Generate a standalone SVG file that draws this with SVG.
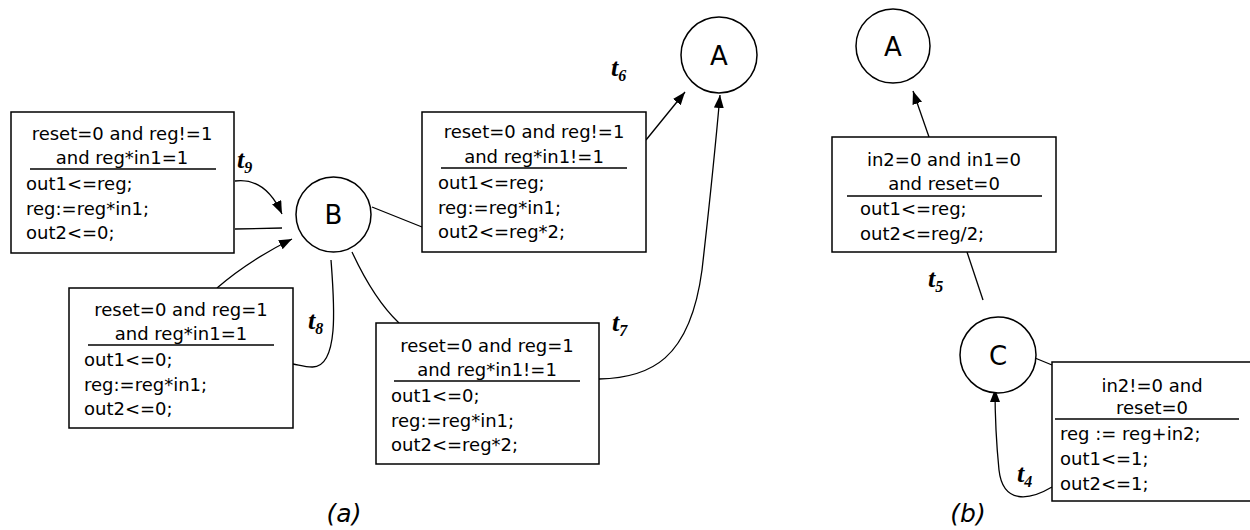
<svg xmlns="http://www.w3.org/2000/svg" width="1250" height="530" viewBox="0 0 1250 530">
<style>
.box{fill:#fff;stroke:#000;stroke-width:1.5}
.node{fill:#fff;stroke:#000;stroke-width:1.5}
.sep{stroke:#000;stroke-width:1.5}
.edge{fill:none;stroke:#000;stroke-width:1.3}
.tx{font-family:"DejaVu Sans",Verdana,sans-serif;font-size:18px;fill:#000}
.c{text-anchor:middle}
.nl{font-family:"DejaVu Sans",Verdana,sans-serif;font-size:26px;text-anchor:middle;fill:#000}
.tl{font-family:"Liberation Serif","Times New Roman",serif;font-size:26px;font-weight:bold;font-style:italic;fill:#000}
.sub{font-size:16px}
.cap{font-family:"DejaVu Sans",Verdana,sans-serif;font-size:25px;font-style:italic;text-anchor:middle;fill:#000}
</style>
<defs>
<marker id="ah" markerUnits="userSpaceOnUse" markerWidth="14" markerHeight="12" refX="13" refY="5" orient="auto">
<path d="M0,0 L13,5 L0,10 Z" fill="#000"/>
</marker>
</defs>
<rect width="1250" height="530" fill="#fff"/>
<g id="connectors">
<path class="edge" d="M235,181 C258,178 272,192 282,214" marker-end="url(#ah)"/>
<path class="edge" d="M235,229 L282,228"/>
<path class="edge" d="M217,288 C240,268 262,254 292,239" marker-end="url(#ah)"/>
<path class="edge" d="M331,260 C334,300 340,368 312,367 C305,367 299,365 293,364"/>
<path class="edge" d="M352,252 C365,280 380,305 399,323"/>
<path class="edge" d="M372,207 L422,227"/>
<path class="edge" d="M646,140 L685,92" marker-end="url(#ah)"/>
<path class="edge" d="M599,379 C650,378 690,360 702,270 C710,200 716,140 720,95" marker-end="url(#ah)"/>
<path class="edge" d="M929,137 L913,91" marker-end="url(#ah)"/>
<path class="edge" d="M967,252 L983,300"/>
<path class="edge" d="M1035,358 L1052,365"/>
<path class="edge" d="M1052,487 C1030,500 1003,505 999,470 C996,440 995,415 995,389" marker-end="url(#ah)"/>
</g>
<g id="node-B"><circle class="node" cx="333.5" cy="214.5" r="37.5"/><text class="nl" x="333.5" y="224">B</text></g>
<g id="node-A1"><circle class="node" cx="719" cy="55" r="38"/><text class="nl" x="719" y="65">A</text></g>
<g id="node-A2"><circle class="node" cx="893" cy="46" r="37"/><text class="nl" x="893" y="56">A</text></g>
<g id="node-C"><circle class="node" cx="998" cy="355" r="38"/><text class="nl" x="998" y="365">C</text></g>
<g id="box-t9">
<rect class="box" x="11" y="112" width="223" height="141"/>
<text class="tx c" x="122" y="140">reset=0 and reg!=1</text>
<text class="tx c" x="122" y="164">and reg*in1=1</text>
<line class="sep" x1="30" y1="169" x2="216" y2="169"/>
<text class="tx" x="26" y="190">out1&lt;=reg;</text>
<text class="tx" x="26" y="215">reg:=reg*in1;</text>
<text class="tx" x="26" y="239">out2&lt;=0;</text>
</g>
<g id="box-t8">
<rect class="box" x="69" y="288" width="224" height="140"/>
<text class="tx c" x="181" y="316">reset=0 and reg=1</text>
<text class="tx c" x="181" y="340">and reg*in1=1</text>
<line class="sep" x1="88" y1="345" x2="274" y2="345"/>
<text class="tx" x="84" y="366">out1&lt;=0;</text>
<text class="tx" x="84" y="391">reg:=reg*in1;</text>
<text class="tx" x="84" y="415">out2&lt;=0;</text>
</g>
<g id="box-t7">
<rect class="box" x="376" y="323" width="223" height="141"/>
<text class="tx c" x="487" y="352">reset=0 and reg=1</text>
<text class="tx c" x="487" y="376">and reg*in1!=1</text>
<line class="sep" x1="394" y1="381" x2="580" y2="381"/>
<text class="tx" x="391" y="402">out1&lt;=0;</text>
<text class="tx" x="391" y="427">reg:=reg*in1;</text>
<text class="tx" x="391" y="451">out2&lt;=reg*2;</text>
</g>
<g id="box-t6">
<rect class="box" x="422" y="112" width="224" height="140"/>
<text class="tx c" x="534" y="138">reset=0 and reg!=1</text>
<text class="tx c" x="534" y="163">and reg*in1!=1</text>
<line class="sep" x1="441" y1="168" x2="627" y2="168"/>
<text class="tx" x="438" y="189">out1&lt;=reg;</text>
<text class="tx" x="438" y="214">reg:=reg*in1;</text>
<text class="tx" x="438" y="238">out2&lt;=reg*2;</text>
</g>
<g id="box-t5">
<rect class="box" x="832" y="137" width="224" height="115"/>
<text class="tx c" x="944" y="166">in2=0 and in1=0</text>
<text class="tx c" x="944" y="190">and reset=0</text>
<line class="sep" x1="847" y1="196" x2="1042" y2="196"/>
<text class="tx" x="860" y="215">out1&lt;=reg;</text>
<text class="tx" x="860" y="240">out2&lt;=reg/2;</text>
</g>
<g id="box-t4">
<rect class="box" x="1052" y="362" width="200" height="139"/>
<text class="tx c" x="1152" y="392">in2!=0 and</text>
<text class="tx c" x="1152" y="414">reset=0</text>
<line class="sep" x1="1055" y1="419" x2="1239" y2="419"/>
<text class="tx" x="1060" y="440">reg := reg+in2;</text>
<text class="tx" x="1060" y="465">out1&lt;=1;</text>
<text class="tx" x="1060" y="490">out2&lt;=1;</text>
</g>
<g id="labels">
<text class="tl" x="237" y="168">t<tspan class="sub" dy="5">9</tspan></text>
<text class="tl" x="308" y="329">t<tspan class="sub" dy="5">8</tspan></text>
<text class="tl" x="612" y="331">t<tspan class="sub" dy="5">7</tspan></text>
<text class="tl" x="611" y="76">t<tspan class="sub" dy="5">6</tspan></text>
<text class="tl" x="928" y="287">t<tspan class="sub" dy="5">5</tspan></text>
<text class="tl" x="1017" y="482">t<tspan class="sub" dy="5">4</tspan></text>
<text class="cap" x="344" y="522">(a)</text>
<text class="cap" x="968" y="522">(b)</text>
</g>
</svg>
